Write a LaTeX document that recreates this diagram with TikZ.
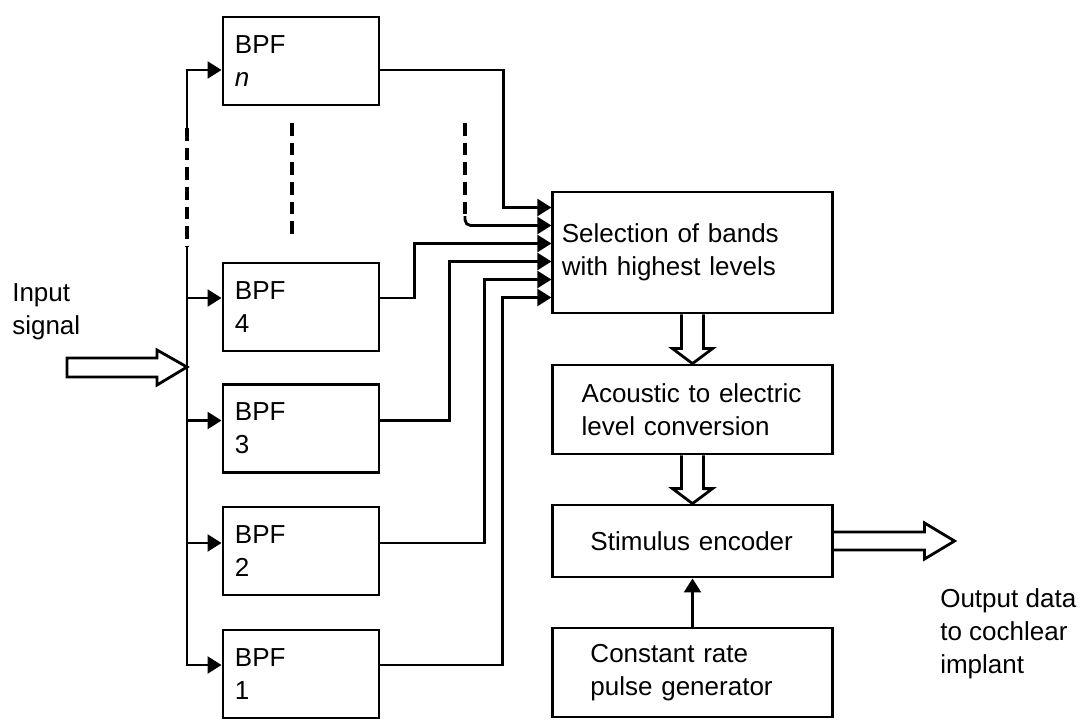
\documentclass[tikz,border=0pt]{standalone}
\usepackage{fontspec}
\setmainfont{Liberation Sans}
\usetikzlibrary{arrows.meta,calc}

\begin{document}
\begin{tikzpicture}[x=0.025cm,y=-0.025cm,
  font=\fontsize{18.5}{23.5}\selectfont,
  line/.style={line width=2pt},
  sig/.style={line width=2pt,-{Triangle[length=10pt,width=12pt]}},
  dots/.style={line width=2.3pt,dash pattern=on 9pt off 5pt},
  fat/.style={line width=2pt,line join=miter},
  bpf/.style={draw,line width=2pt,minimum height=2.2cm,text width=3.3cm,
    align=left,inner xsep=0.3cm,inner ysep=0pt},
  blk/.style={draw,line width=2pt,align=left,inner ysep=0pt,
    execute at begin node={\hyphenpenalty 10000\relax}}]
\useasboundingbox (0,0) rectangle (1080,719);

% band pass filters
\node[bpf] (bn) at (301,61) {BPF\\\textit{n}};
\node[bpf] (b4) at (301,307) {BPF\\4};
\node[bpf] (b3) at (301,428.5) {BPF\\3};
\node[bpf] (b2) at (301,551) {BPF\\2};
\node[bpf] (b1) at (301,674) {BPF\\1};

% processing chain
\node[blk,minimum height=3.025cm,text width=6.53cm,inner xsep=0.225cm] (sel) at (692.5,252.5) {Selection of bands\\with highest levels};
\node[blk,minimum height=2.225cm,text width=5.54cm,inner xsep=0.72cm] (acou) at (692.5,409.5) {Acoustic to electric\\level conversion};
\node[blk,minimum height=1.8cm,text width=5.1cm,inner xsep=0.94cm] (stim) at (692.5,541) {Stimulus encoder};
\node[blk,minimum height=2.225cm,text width=5.1cm,inner xsep=0.94cm] (cons) at (692.5,672.5) {Constant rate\\pulse generator};

\node[anchor=north west,inner sep=0,align=left] (inlab) at (12,283) {Input\\signal};
\node[anchor=north west,inner sep=0,align=left] (outlab) at (940,588) {Output data\\to cochlear\\implant};

% inputs of the selection block
\foreach \i in {0,...,5}
  \coordinate (s\i) at ($(sel.west)+(0,-45+18*\i)$);

% input bus
\coordinate (busa) at (187,128);
\coordinate (busb) at (187,247);
\coordinate (intip) at (187,367);
\draw[dots] (busa) -- (busb);
\draw[sig] (busa) |- ($(bn.west)+(0,9)$);
\draw[sig] (busb) |- ($(b1.west)+(0,-9)$);
\foreach \b/\d in {4/-9,3/-8,2/-8}
  \draw[sig] ($(b\b.west)+(-36,\d)$) -- ++(36,0);
\draw[fat] (intip) -- ++(-30,-17) -- ++(0,8) -- ++(-90,0) -- ++(0,19) -- ++(90,0) -- ++(0,8) -- cycle;

% filter outputs
\draw[sig] ($(bn.east)+(0,9)$) -- ++(123,0) |- (s0);
\foreach \b/\d/\w/\s in {4/-9/34/2,3/-8/69/3,2/-8/104/4,1/-9/122/5}
  \draw[sig] ($(b\b.east)+(0,\d)$) -- ++(\w,0) |- (s\s);

% omitted bands
\coordinate (da) at (292,123);
\coordinate (db) at (292,235);
\coordinate (dc) at (465,123);
\coordinate (dd) at (465,216);
\draw[dots] (da) -- (db);
\draw[dots] (dc) -- (dd);
\draw[sig,rounded corners=4pt] (dd) |- (s1);

% wide arrows
\foreach \a/\b in {sel/acou,acou/stim}
  \draw[fat] ($(\a.south)+(-11,0)$) -- ($(\b.north)+(-11,-15)$) -- ($(\b.north)+(-20,-15)$)
    -- (\b.north) -- ($(\b.north)+(20,-15)$) -- ($(\b.north)+(11,-15)$) -- ($(\a.south)+(11,0)$);
\draw[fat] ($(stim.east)+(0,-9)$) -- ++(91,0) -- ++(0,-9) -- ($(stim.east)+(121,0)$)
  -- ++(-30,18) -- ++(0,-9) -- ($(stim.east)+(0,9)$);
\draw[sig] (cons.north) -- (stim.south);
\end{tikzpicture}
\end{document}
